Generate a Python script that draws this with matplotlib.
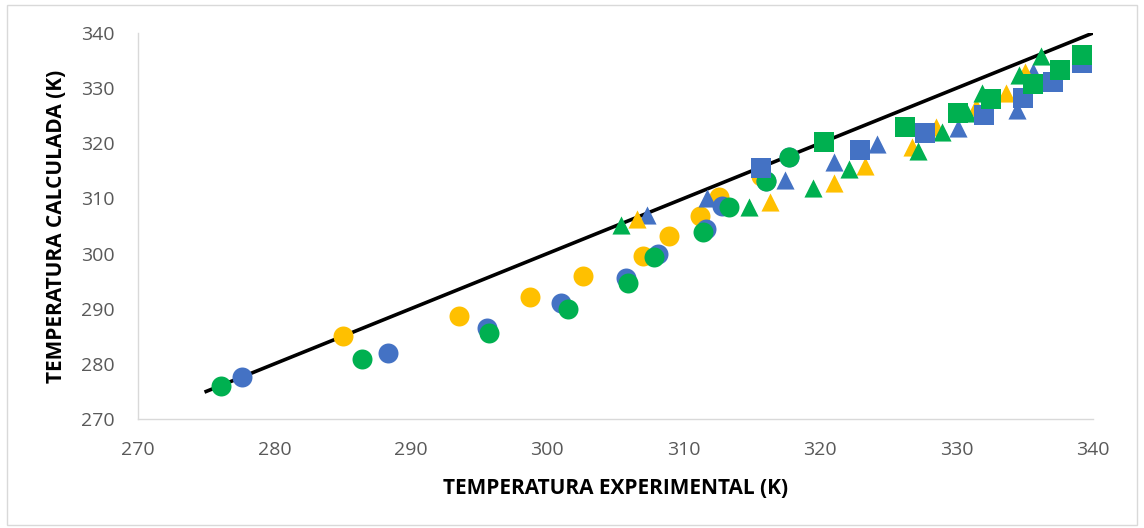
import matplotlib.pyplot as plt
from matplotlib.patches import Rectangle

# Values (experimental T, calculated T) in K
circ_gold_x = [285.0, 293.5, 298.7, 302.6, 307.0, 308.9, 311.2, 312.6, 315.7]
circ_gold_y = [285.0, 288.6, 292.2, 295.9, 299.6, 303.2, 306.8, 310.3, 314.0]

circ_blue_x = [277.6, 288.3, 295.6, 301.0, 305.8, 308.1, 311.6, 312.8, 316.0, 317.7]
circ_blue_y = [277.6, 282.0, 286.5, 291.0, 295.5, 300.0, 304.4, 308.6, 313.1, 317.6]

circ_green_x = [276.1, 286.4, 295.7, 301.5, 305.9, 307.8, 311.4, 313.3, 316.0, 317.7]
circ_green_y = [276.0, 280.9, 285.6, 290.0, 294.7, 299.4, 303.9, 308.5, 313.2, 317.6]

tri_blue_x = [307.3, 311.7, 317.4, 321.0, 324.2, 330.1, 334.4, 335.6]
tri_blue_y = [307.0, 310.1, 313.3, 316.6, 319.9, 322.8, 326.0, 332.9]

tri_gold_x = [306.6, 316.3, 321.0, 323.3, 326.7, 328.5, 331.4, 333.6, 335.0]
tri_gold_y = [306.3, 309.4, 312.8, 315.9, 319.3, 322.9, 326.6, 329.2, 332.9]

tri_green_x = [305.4, 314.8, 319.5, 322.1, 327.2, 328.9, 330.8, 331.9, 334.6, 336.2]
tri_green_y = [305.2, 308.5, 311.9, 315.3, 318.6, 322.1, 325.5, 329.1, 332.4, 335.8]

sq_blue_x = [315.7, 322.9, 327.7, 332.0, 334.9, 337.1, 339.2]
sq_blue_y = [315.5, 318.8, 321.9, 325.1, 328.2, 331.1, 334.6]

sq_green_x = [320.3, 326.2, 330.1, 332.5, 335.6, 337.6, 339.2]
sq_green_y = [320.2, 323.0, 325.5, 328.0, 330.8, 333.3, 336.0]

# y = x reference line
line_x = [275, 340]
line_y = [275, 340]

ticks = [270, 280, 290, 300, 310, 320, 330, 340]

GOLD = '#FFC000'
BLUE = '#4472C4'
GREEN = '#00B050'

plt.rcParams['font.family'] = ['Open Sans', 'DejaVu Sans']

fig = plt.figure(figsize=(11.44, 5.28), dpi=100)
ax = fig.add_axes([0.1206, 0.2064, 0.8348, 0.7311])

ax.plot(line_x, line_y, color='black', linewidth=2.6, zorder=2)

ax.scatter(circ_gold_x, circ_gold_y, s=207, marker='o', color=GOLD, linewidths=0, zorder=3)
ax.scatter(circ_blue_x, circ_blue_y, s=207, marker='o', color=BLUE, linewidths=0, zorder=3)
ax.scatter(circ_green_x, circ_green_y, s=207, marker='o', color=GREEN, linewidths=0, zorder=3)
ax.scatter(tri_blue_x, tri_blue_y, s=170, marker='^', color=BLUE, linewidths=0, zorder=3)
ax.scatter(tri_gold_x, tri_gold_y, s=170, marker='^', color=GOLD, linewidths=0, zorder=3)
ax.scatter(tri_green_x, tri_green_y, s=170, marker='^', color=GREEN, linewidths=0, zorder=3)
ax.scatter(sq_blue_x, sq_blue_y, s=190, marker='s', color=BLUE, linewidths=0, zorder=3)
ax.scatter(sq_green_x, sq_green_y, s=190, marker='s', color=GREEN, linewidths=0, zorder=3)

ax.set_xlim(270, 340)
ax.set_ylim(270, 340)
ax.set_xticks(ticks)
ax.set_yticks(ticks)
ax.tick_params(length=0, labelsize=14, colors='#595959')
ax.tick_params(axis='x', pad=16)
ax.tick_params(axis='y', pad=17)

for side in ['top', 'right']:
    ax.spines[side].set_visible(False)
for side in ['left', 'bottom']:
    ax.spines[side].set_color('#D9D9D9')
    ax.spines[side].set_linewidth(1)

ax.set_xlabel('TEMPERATURA EXPERIMENTAL (K)', fontsize=15, fontweight='bold', va='center')
ax.set_ylabel('TEMPERATURA CALCULADA (K)', fontsize=15, fontweight='bold', va='center')
ax.xaxis.set_label_coords(0.5, -0.181)
ax.yaxis.set_label_coords(-0.085, 0.5)

# light chart-area border
fig.patches.append(Rectangle((0.006, 0.006), 0.988, 0.985, transform=fig.transFigure,
                             fill=False, edgecolor='#D9D9D9', linewidth=1))

fig.savefig('out.png', dpi=100)
